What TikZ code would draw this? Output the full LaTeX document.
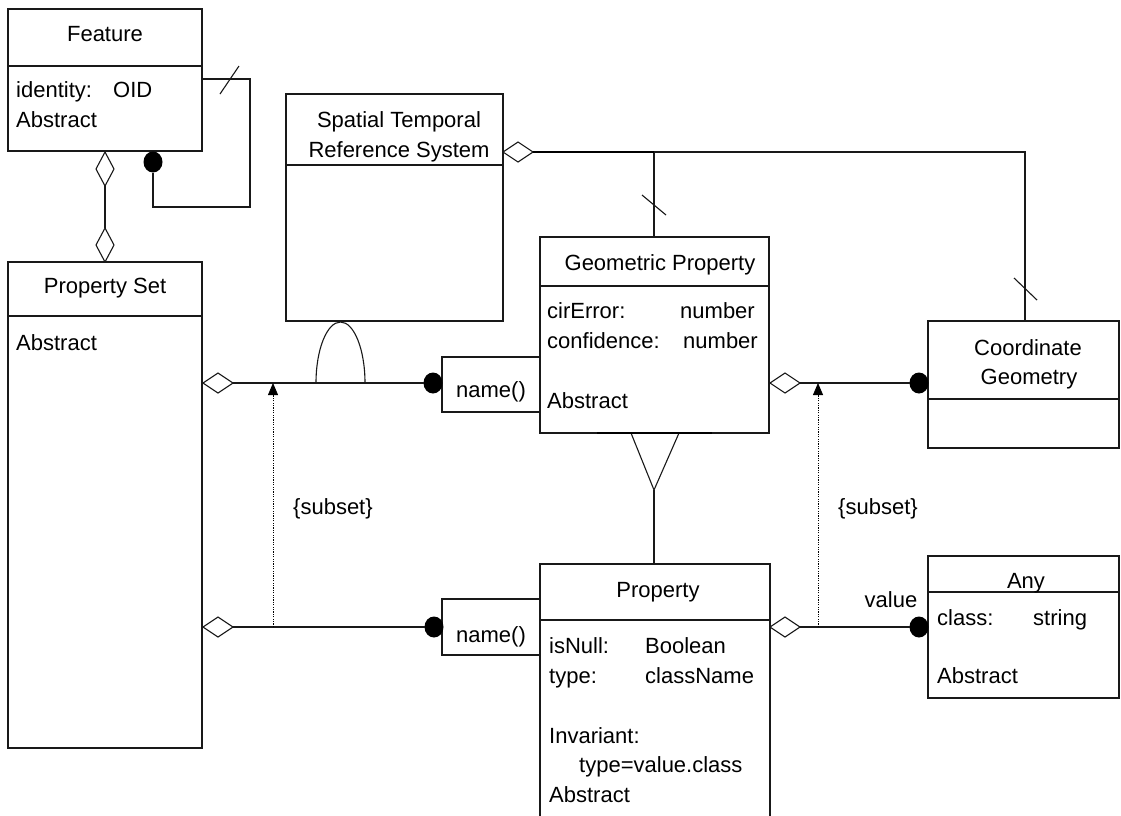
\documentclass[tikz,border=0pt]{standalone}
\usepackage{fontspec}
\setmainfont{Liberation Sans}
\usetikzlibrary{shapes.geometric,arrows.meta}
\newcommand\myfs{\fontsize{22}{26}\selectfont}
\begin{document}
\begin{tikzpicture}[x=1pt,y=-1pt,
  ln/.style={line width=1.1pt,draw=black!90},
  cls/.style={ln,rectangle,inner sep=0pt,outer sep=0pt,anchor=north west,fill=white},
  lt/.style={inner sep=0pt,anchor=base west,font=\myfs},
  rt/.style={inner sep=0pt,anchor=base east,font=\myfs},
  ct/.style={inner sep=0pt,anchor=base,font=\myfs},
  dia/.style={diamond,ln,fill=white,inner sep=0pt,outer sep=0pt,minimum width=30pt,minimum height=20pt},
  vdia/.style={diamond,ln,fill=white,inner sep=0pt,outer sep=0pt,minimum width=18pt,minimum height=34pt},
  ball/.style={ellipse,fill=black,inner sep=0pt,outer sep=0pt,minimum width=19pt,minimum height=21pt},
  sub/.style={line width=0.8pt,dash pattern=on 1.2pt off 1.2pt,-{Triangle[length=12pt,width=10pt]}},
  thick line/.style={line width=1.9pt}
]
\clip (0,0) rectangle (1121,815);
\fill[white] (0,0) rectangle (1121,815);

% ---------- Feature ----------
\node[cls,minimum width=194pt,minimum height=142pt] (feat) at (8,9) {};
\draw[ln] (8,66) -- (202,66);
\node[ct] (featT) at (105,41) {Feature};
\node[lt] (featA1) at (16,97) {identity:};
\node[lt] (featA2) at (113,97) {OID};
\node[lt] (featA3) at (16,127) {Abstract};

% self association of Feature
\node[ball] (fball) at (153,162) {};
\coordinate (fl1) at (202,79);
\coordinate (fl2) at (250,79);
\coordinate (fl3) at (250,207);
\coordinate (fl4) at (153,207);
\draw[ln] (fl1) -- (fl2) -- (fl3) -- (fl4) -- (fball.south);
\draw[ln] (220,94) -- (239,66);

% Feature -- Property Set
\node[vdia] (fd1) at (105,169) {};
\node[vdia] (fd2) at (105,245) {};
\draw[ln] (fd1.south) -- (fd2.north);

% ---------- Property Set ----------
\node[cls,minimum width=194pt,minimum height=486pt] (ps) at (8,262) {};
\draw[ln] (8,316) -- (202,316);
\node[ct] (psT) at (105,293) {Property Set};
\node[lt] (psA) at (16,350) {Abstract};

% ---------- Spatial Temporal Reference System ----------
\node[cls,minimum width=217pt,minimum height=227pt] (strs) at (286,94) {};
\draw[ln] (286,165) -- (503,165);
\node[ct] (strsT1) at (399,127) {Spatial Temporal};
\node[ct] (strsT2) at (399,157) {Reference System};

\node[dia] (sd) at (518,152) {};
\coordinate (j1) at (654,152);
\coordinate (j2) at (1025,152);
\coordinate (gptop) at (654,237);
\coordinate (cgtop) at (1025,321);
\draw[ln] (sd.east) -- (j2) -- (cgtop);
\draw[ln] (j1) -- (gptop);
\draw[thick line] (sd.east) -- (j1);
\draw[ln] (642,195) -- (666,215);
\draw[ln] (1014,278) -- (1037,300);

% ---------- Geometric Property ----------
\node[cls,minimum width=229pt,minimum height=196pt] (gp) at (540,237) {};
\draw[ln] (540,286) -- (769,286);
\node[ct] (gpT) at (660,270) {Geometric Property};
\node[lt] (gpA1) at (547,318) {cirError:};
\node[rt] (gpA1t) at (755,318) {number};
\node[lt] (gpA2) at (547,348) {confidence:};
\node[rt] (gpA2t) at (758,348) {number};
\node[lt] (gpA3) at (547,408) {Abstract};

% inheritance Property -> Geometric Property
\coordinate (tri) at (654,490);
\coordinate (proptop) at (654,564);
\draw[ln,fill=white] (631,433) -- (tri) -- (679,433);
\draw[thick line] (597,433) -- (712,433);
\draw[ln] (tri) -- (proptop);

% ---------- Coordinate Geometry ----------
\node[cls,minimum width=191pt,minimum height=127pt] (cg) at (928,321) {};
\draw[ln] (928,399) -- (1119,399);
\node[ct] (cgT1) at (1028,355) {Coordinate};
\node[ct] (cgT2) at (1029,384) {Geometry};

% ---------- name() boxes ----------
\node[cls,minimum width=98pt,minimum height=55pt] (n1) at (442,357) {};
\node[ct] (n1T) at (491,397) {name()};
\node[cls,minimum width=98pt,minimum height=56pt] (n2) at (442,599) {};
\node[ct] (n2T) at (491,642) {name()};

% ---------- Property ----------
\node[cls,minimum width=230pt,minimum height=270pt] (prop) at (540,564) {};
\draw[ln] (540,620) -- (770,620);
\node[ct] (propT) at (658,597) {Property};
\node[lt] (propA1) at (549,653) {isNull:};
\node[lt] (propA1t) at (645,653) {Boolean};
\node[lt] (propA2) at (549,683) {type:};
\node[lt] (propA2t) at (645,683) {className};
\node[lt] (propA3) at (549,743) {Invariant:};
\node[lt] (propA4) at (579,772) {type=value.class};
\node[lt] (propA5) at (549,802) {Abstract};

% ---------- Any ----------
\node[cls,minimum width=191pt,minimum height=142pt] (any) at (928,556) {};
\draw[ln] (928,592) -- (1119,592);
\node[ct] (anyT) at (1026,588) {Any};
\node[lt] (anyA1) at (937,625) {class:};
\node[lt] (anyA1t) at (1033,625) {string};
\node[lt] (anyA2) at (937,683) {Abstract};

% ---------- associations ----------
% upper left
\node[dia] (pd1) at (218,383) {};
\node[ball] (b1) at (433,383) {};
\draw[ln] (pd1.east) -- (b1.west);
\draw[ln] (316,383) .. controls (316,349.3) and (327,322) .. (340.5,322)
               .. controls (354,322) and (365,349.3) .. (365,383);
% lower left
\node[dia] (pd2) at (218,627) {};
\node[ball] (b2) at (434,627) {};
\draw[ln] (pd2.east) -- (b2.west);
\coordinate (s1a) at (273,627);
\coordinate (s1b) at (273,383);
\draw[sub] (s1a) -- (s1b);
\node[lt] (sub1) at (293,514) {\{subset\}};

% upper right
\node[dia] (gd) at (785,383) {};
\node[ball] (b3) at (919,383) {};
\draw[ln] (gd.east) -- (b3.west);
% lower right
\node[dia] (prd) at (785,627) {};
\node[ball] (b4) at (919,627) {};
\draw[ln] (prd.east) -- (b4.west);
\coordinate (s2a) at (818,627);
\coordinate (s2b) at (818,383);
\draw[sub] (s2a) -- (s2b);
\node[lt] (sub2) at (838,514) {\{subset\}};
\node[ct] (val) at (891,607) {value};
\end{tikzpicture}
\end{document}
